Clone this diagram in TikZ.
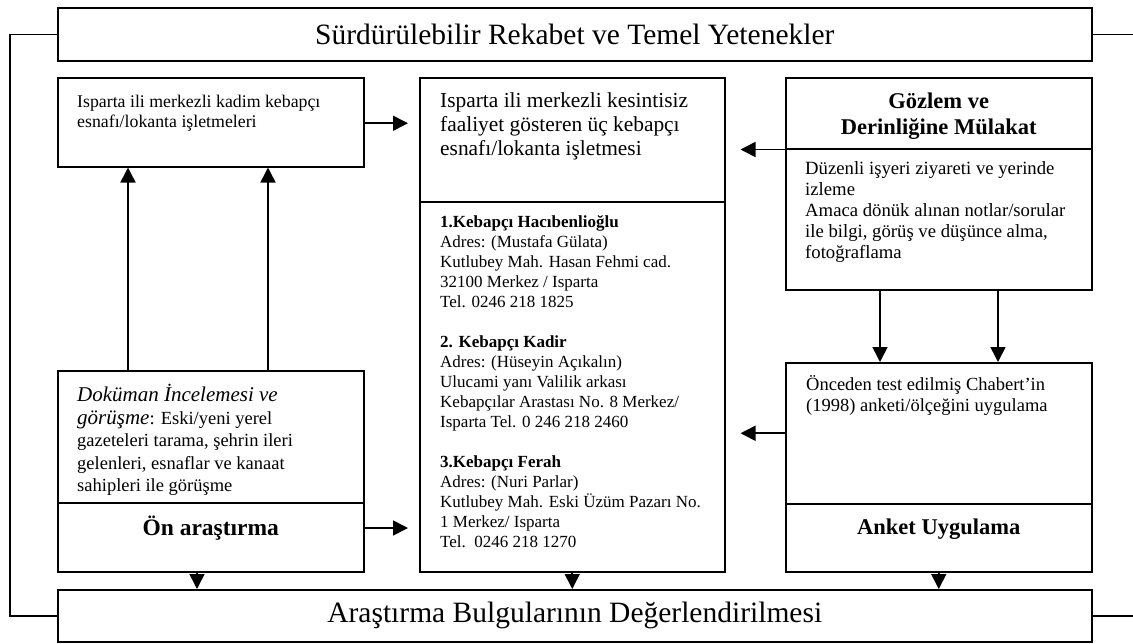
\documentclass[tikz,border=0pt]{standalone}
\usepackage{fontspec}
\setmainfont{Liberation Serif}
\usetikzlibrary{arrows.meta,calc}

\tikzset{
  kutu/.style={draw, line width=1.5pt, minimum width=306pt, inner sep=0pt, anchor=north west},
  metin/.style={inner sep=0pt, anchor=north west, align=left, font=\fontsize{17}{20}\selectfont},
  kalin/.style={inner sep=0pt, align=center, font=\fontsize{22.5}{26}\selectfont\bfseries},
  ok/.style={line width=1.6pt, -{Triangle[length=15pt,width=15pt]}},
  cizgi/.style={line width=1.5pt},
}

\begin{document}
\begin{tikzpicture}[x=1pt,y=-1pt]
\useasboundingbox (0,0) rectangle (1133,643);
% ust ve alt basliklar
\node[kutu, minimum width=1034pt, minimum height=53pt, font=\fontsize{29.5}{32}\selectfont] (ust) at (57,7) {Sürdürülebilir Rekabet ve Temel Yetenekler};
\node[kutu, minimum width=1034pt, minimum height=52pt, font=\fontsize{29.5}{32}\selectfont] (alt) at (57,589) {Araştırma Bulgularının Değerlendirilmesi};

% sol sutun
\node[kutu, minimum height=89pt] (kadim) at (57,77) {};
\node[kutu, minimum height=132pt] (dokuman) at (57,370) {};
\node[kutu, minimum height=69pt] (onarastirma) at (57,502) {};
\node[metin, font=\fontsize{17.8}{20}\selectfont] (kadimtxt) at ($(kadim.north west)+(20,16)$) {\strut Isparta ili merkezli kadim kebapçı\\esnafı/lokanta işletmeleri};
\node[metin, font=\fontsize{18.5}{22.5}\selectfont] (dokumantxt) at ($(dokuman.north west)+(20,14)$) {\strut{\fontsize{21}{22.5}\selectfont\itshape Doküman İncelemesi ve}\\{\fontsize{21}{22.5}\selectfont\itshape görüşme}: Eski/yeni yerel\\gazeteleri tarama, şehrin ileri\\gelenleri, esnaflar ve kanaat\\sahipleri ile görüşme};
\node[kalin, font=\fontsize{23.5}{26}\selectfont\bfseries] (ontxt) at ($(onarastirma.north)+(0,26)$) {Ön araştırma};

% orta sutun
\node[kutu, minimum width=305pt, minimum height=124pt] (kesintisiz) at (419,77) {};
\node[kutu, minimum width=305pt, minimum height=370pt] (liste) at (419,201) {};
\node[metin, font=\fontsize{21.4}{24}\selectfont] (kesintisiztxt) at ($(kesintisiz.north west)+(21,13)$) {\strut Isparta ili merkezli kesintisiz\\faaliyet gösteren üç kebapçı\\esnafı/lokanta işletmesi};
\node[metin] (listetxt) at ($(liste.north west)+(21,12)$) {\strut\textbf{1.Kebapçı Hacıbenlioğlu}\\Adres: (Mustafa Gülata)\\Kutlubey Mah. Hasan Fehmi cad.\\32100 Merkez / Isparta\\Tel. 0246 218 1825\\[20pt]
\textbf{2. Kebapçı Kadir}\\Adres: (Hüseyin Açıkalın)\\Ulucami yanı Valilik arkası\\Kebapçılar Arastası No. 8 Merkez/\\Isparta Tel. 0 246 218 2460\\[20pt]
\textbf{3.Kebapçı Ferah}\\Adres: (Nuri Parlar)\\Kutlubey Mah. Eski Üzüm Pazarı No.\\1 Merkez/ Isparta\\Tel.\ \ 0246 218 1270};

% sag sutun
\node[kutu, minimum height=71pt] (gozlem) at (785,77) {};
\node[kutu, minimum height=141pt] (duzenli) at (785,148) {};
\node[kutu, minimum height=141pt] (chabert) at (785,362) {};
\node[kutu, minimum height=68pt] (anket) at (785,503) {};
\node[kalin] (gozlemtxt) at ($(gozlem.center)+(0,3)$) {Gözlem ve\\Derinliğine Mülakat};
\node[metin, font=\fontsize{18.7}{21}\selectfont] (duzenlitxt) at ($(duzenli.north west)+(20,12)$) {\strut Düzenli işyeri ziyareti ve yerinde\\izleme\\Amaca dönük alınan notlar/sorular\\ile bilgi, görüş ve düşünce alma,\\fotoğraflama};
\node[metin, font=\fontsize{18.5}{21}\selectfont] (chaberttxt) at ($(chabert.north west)+(21,13)$) {\strut Önceden test edilmiş Chabert’in\\(1998) anketi/ölçeğini uygulama};
\node[kalin] (ankettxt) at ($(anket.north)+(0,26)$) {Anket Uygulama};

% yan cizgiler
\coordinate (solkenar) at (10,0);
\coordinate (sagkenar) at (1133,0);
\draw[cizgi] (ust.west) -| (solkenar |- alt.west) -- (alt.west);
\draw[cizgi] (ust.east) -- (ust.east -| sagkenar);
\draw[cizgi] (alt.east) -- (alt.east -| sagkenar);

% oklar
\draw[ok, shorten >=11pt] ($(kadim.east)+(0,1)$) -- ($(kadim.east -| kesintisiz.west)+(0,1)$);
\draw[ok, shorten >=11pt] (onarastirma.east |- ontxt) -- (liste.west |- ontxt);
\draw[ok, shorten >=15pt] (gozlem.south west) -- (gozlem.south west -| kesintisiz.east);
\draw[ok, shorten >=15pt] (chabert.west) -- (chabert.west -| liste.east);
\draw[ok] ($(dokuman.north west)+(71,0)$) -- ($(kadim.south west)+(71,0)$);
\draw[ok] ($(dokuman.north west)+(211,0)$) -- ($(kadim.south west)+(211,0)$);
\draw[ok] ($(duzenli.south west)+(95,0)$) -- ($(chabert.north west)+(95,0)$);
\draw[ok] ($(duzenli.south west)+(213,0)$) -- ($(chabert.north west)+(213,0)$);
\draw[ok] ($(onarastirma.south west)+(140,0)$) -- ($(alt.north west)+(140,0)$);
\draw[ok] (liste.south) -- (liste.south |- alt.north);
\draw[ok] (anket.south) -- (anket.south |- alt.north);
\end{tikzpicture}
\end{document}
